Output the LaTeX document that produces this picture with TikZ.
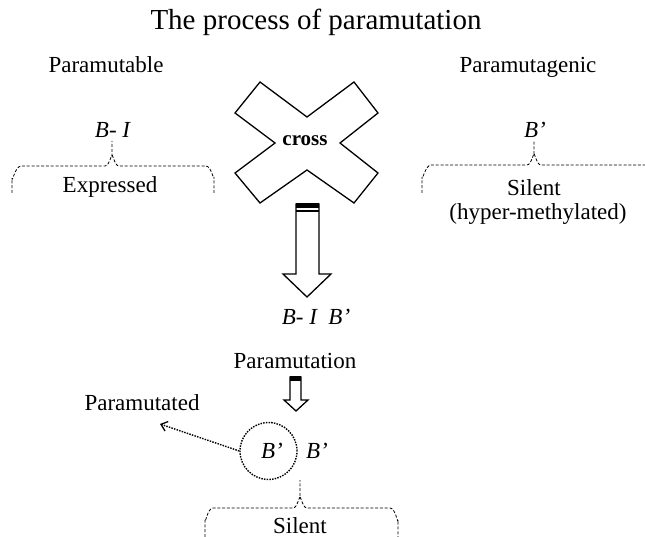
\documentclass[tikz,border=0pt]{standalone}
\usepackage{fontspec}
\setmainfont{Liberation Serif}
\usetikzlibrary{arrows.meta}
\tikzset{
  lbl/.style={font=\fontsize{23}{26}\selectfont, inner sep=0pt, anchor=base},
  ttl/.style={font=\fontsize{29}{32}\selectfont, inner sep=0pt, anchor=base},
  brc/.style={line width=0.8pt, dash pattern=on 3pt off 1.8pt},
  shp/.style={line width=1.3pt, line join=miter, fill=white},
  dots/.style={line width=1.4pt, dash pattern=on 1.5pt off 1.2pt},
}
\begin{document}
\begin{tikzpicture}[x=1pt,y=-1pt]
\useasboundingbox (0,0) rectangle (645,537);
% title
\node[ttl] (title) at (316,30) {The process of paramutation};
% left column
\node[lbl] (pmb) at (106,73) {Paramutable};
\node[lbl] (bi) at (113,138) {\textit{B- I}};
\node[lbl] (expr) at (110,193) {Expressed};
% right column
\node[lbl] (pmg) at (528,73) {Paramutagenic};
\node[lbl] (bp) at (535,138) {\textit{B’}};
\node[lbl] (sil1) at (534,196) {Silent};
\node[lbl] (hyp) at (538,220) {(hyper-methylated)};
% braces
\draw[brc] (12,193) -- (12,178) to[out=-90,in=180] (21,166) -- (105,166)
  to[out=0,in=90] (112,156) -- (112,141);
\draw[brc] (112,156) to[out=90,in=180] (119,166) -- (206,166)
  to[out=0,in=-90] (214,177) -- (214,193);
\draw[brc] (422,193) -- (422,177) to[out=-90,in=180] (431,165) -- (527,165)
  to[out=0,in=90] (534,155) -- (534,141);
\draw[brc] (534,155) to[out=90,in=180] (541,165) -- (645,165);
\draw[brc] (205,537) -- (205,520) to[out=-90,in=180] (213,508) -- (293,508)
  to[out=0,in=90] (300,498) -- (300,480);
\draw[brc] (300,498) to[out=90,in=180] (307,508) -- (390,508)
  to[out=0,in=-90] (398,520) -- (398,537);
% cross
\draw[shp] (260,82) -- (307,117) -- (354,82) -- (378,113) -- (340,143)
  -- (378,173) -- (354,203) -- (307,170) -- (260,203) -- (235,173)
  -- (275,143) -- (235,113) -- cycle;
\node[font=\fontsize{21}{23}\selectfont\bfseries, inner sep=0pt] (cross) at (305,141) {cross};
% big arrow
\draw[shp] (296,204) -- (319,204) -- (319,274) -- (331,274) -- (307,297)
  -- (283,274) -- (296,274) -- cycle;
\fill (296,203.4) rectangle (319,208.3);
\draw[line width=1.6pt] (296,211) -- (319,211);
\node[lbl] (mid) at (316,324) {\textit{B- I\ \ B’}};
% paramutation
\node[lbl] (pmt) at (295,368) {Paramutation};
\draw[shp] (290,377) -- (301,377) -- (301,400) -- (308,400) -- (296,411)
  -- (284,400) -- (290,400) -- cycle;
\fill (290,376.4) rectangle (301,381);
% bottom
\node[lbl] (pmd) at (142,410) {Paramutated};
\node[draw, dots, circle, minimum size=57pt, inner sep=0pt] (circ) at (268.5,451) {};
\node[lbl] (bc) at (272,458) {\textit{B’}};
\node[lbl] (bo) at (317,458) {\textit{B’}};
\coordinate (tipd) at (160,424);
\draw[dots, -{Straight Barb[length=6pt,width=10pt,line width=1.3pt]}] (circ.west) -- (tipd);
\node[lbl] (sil2) at (300,533) {Silent};
\end{tikzpicture}
\end{document}
